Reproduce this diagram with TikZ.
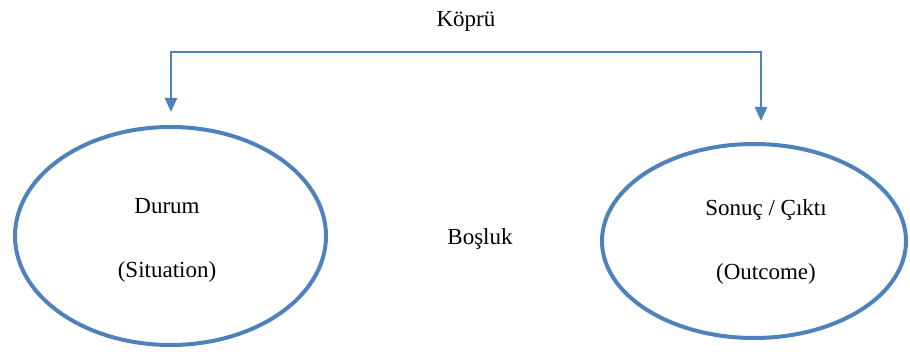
\documentclass[tikz,border=0pt]{standalone}
\usepackage{fontspec}
\setmainfont{Liberation Serif}
\usetikzlibrary{shapes.geometric,arrows.meta}
\definecolor{officeblue}{RGB}{79,129,189}
\tikzset{
  ring/.style={draw=officeblue,line width=2pt,ellipse,inner sep=0pt},
  link/.style={draw=officeblue,line width=1.2pt,{Triangle[width=6pt,length=7pt]}-{Triangle[width=6pt,length=7pt]}},
  word/.style={font=\fontsize{11.5}{14}\selectfont,align=center,inner sep=1pt}
}
\begin{document}
\begin{tikzpicture}[x=0.5pt,y=-0.5pt]
	    \useasboundingbox (0,0) rectangle (910,352);
	    % the two states
	    \node[ring,minimum width=155.5pt,minimum height=109pt](durum) at (170.5,236){};
	    \node[ring,minimum width=152pt,minimum height=97pt](sonuc) at (754,241){};
	    \node[word](durumtext) at (167,240){Durum\\[18pt](Situation)};
	    \node[word](sonuctext) at (766,242){Sonuç / Çıktı\\[18pt](Outcome)};
	    \node[word](bosluk) at (480,239){Boşluk};
	    % the bridge
	    \node[word](kopru) at (466,21){Köprü};
	    \coordinate(tipL) at (171,112);
	    \coordinate(tipR) at (761,121);
	    \coordinate(koprubar) at (466,52);
	    \draw[link](tipL) |- (koprubar) -| (tipR);
	\end{tikzpicture}
\end{document}
